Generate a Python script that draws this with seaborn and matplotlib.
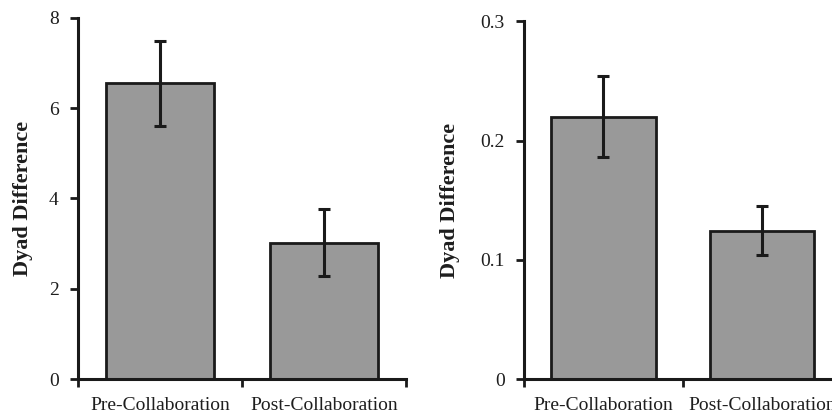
import matplotlib
matplotlib.use("Agg")
import matplotlib.pyplot as plt
import seaborn as sns
import pandas as pd

categories = ["Pre-Collaboration", "Post-Collaboration"]
left_means = [6.55, 3.02]
left_errs = [0.95, 0.74]
right_means = [0.220, 0.1245]
right_errs = [0.034, 0.0205]
left_ticks = [0, 2, 4, 6, 8]
left_ticklabels = ["0", "2", "4", "6", "8"]
right_ticks = [0, 0.1, 0.2, 0.3]
right_ticklabels = ["0", "0.1", "0.2", "0.3"]
ylabel = "Dyad Difference"

sns.set_style("white")
plt.rcParams["font.family"] = ["Liberation Serif", "DejaVu Serif"]

W, H = 832, 415
fig = plt.figure(figsize=(W / 100, H / 100), dpi=100)

def px_axes(x0, y_top, x1, y_bot):
    return fig.add_axes([x0 / W, 1 - y_bot / H, (x1 - x0) / W, (y_bot - y_top) / H])

ax1 = px_axes(78, 18, 406, 379)
ax2 = px_axes(524, 21.3, 841.4, 379)

edge = "#1a1a1a"
txt = "#1e1e1e"

def draw(ax, means, errs, ylim, ticks, ticklabels):
    df = pd.DataFrame({"cat": categories, "val": means})
    sns.barplot(data=df, x="cat", y="val", ax=ax, color="#999999",
                saturation=1, width=0.66, edgecolor=edge, linewidth=2,
                errorbar=None)
    ax.errorbar(x=list(range(len(categories))), y=means, yerr=errs, fmt="none",
                ecolor=edge, elinewidth=2.2, capsize=4, capthick=2.2)
    ax.set_xlim(-0.5, len(categories) - 0.5)
    ax.set_ylim(*ylim)
    ax.set_yticks(ticks)
    ax.set_yticklabels(ticklabels, fontsize=14, color=txt)
    ax.set_xticks(range(len(categories)))
    ax.set_xticklabels(categories, fontsize=14, color=txt)
    ax.tick_params(axis="x", length=0, pad=13)
    ax.tick_params(axis="y", direction="out", length=6, width=2, color=edge,
                   left=True, pad=8)
    # minor ticks at category boundaries (Excel-style)
    ax.set_xticks([i - 0.5 for i in range(len(categories) + 1)], minor=True)
    ax.tick_params(axis="x", which="minor", direction="out", length=6,
                   width=2, color=edge, bottom=True)
    for s in ["top", "right"]:
        ax.spines[s].set_visible(False)
    for s in ["left", "bottom"]:
        ax.spines[s].set_linewidth(2.2)
        ax.spines[s].set_color(edge)
    ax.set_xlabel("")
    ax.set_ylabel(ylabel, fontsize=16, fontweight="bold", color=txt)

draw(ax1, left_means, left_errs, (0, 8), left_ticks, left_ticklabels)
draw(ax2, right_means, right_errs, (0, 0.3), right_ticks, right_ticklabels)
ax1.yaxis.set_label_coords(-0.137, 0.5)
ax2.yaxis.set_label_coords(-0.2016, 0.5)

fig.savefig("out.png", dpi=100, facecolor="white")
